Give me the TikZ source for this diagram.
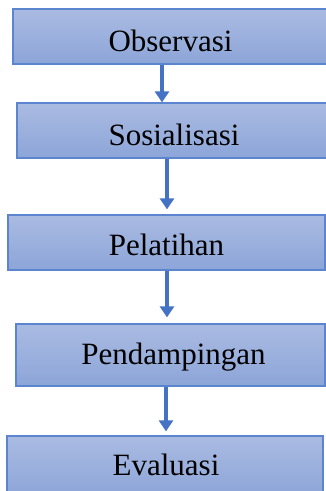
\documentclass[tikz,border=0pt]{standalone}
\usepackage{fontspec}
\setmainfont{Liberation Serif}
\usetikzlibrary{arrows.meta}
\definecolor{boxtop}{HTML}{AABBE2}
\definecolor{boxbot}{HTML}{8CA5D8}
\definecolor{boxline}{HTML}{5B86CF}
\definecolor{arrowc}{HTML}{4472C4}
\begin{document}
\begin{tikzpicture}[x=1pt,y=-1pt,
  stepbox/.style={rectangle, draw=boxline, line width=1.3pt, top color=boxtop, bottom color=boxbot, inner sep=0pt},
  steptext/.style={anchor=base, inner sep=0pt, font=\fontsize{31}{37}\selectfont, text=black},
  flowarrow/.style={draw=arrowc, line width=4pt, -{Triangle[width=14pt,length=11pt]}}]
\useasboundingbox (0,0) rectangle (326,491);
\node[stepbox, minimum width=317pt, minimum height=55pt] (b1) at (171.5,36.5) {};
\node[stepbox, minimum width=313pt, minimum height=55pt] (b2) at (173.5,130.5) {};
\node[stepbox, minimum width=317pt, minimum height=55pt] (b3) at (166.5,242.5) {};
\node[stepbox, minimum width=309pt, minimum height=62pt] (b4) at (170.5,355) {};
\node[stepbox, minimum width=316pt, minimum height=61pt] (b5) at (165,466.5) {};
\node[steptext] (t1) at (170.5,51.5) {Observasi};
\node[steptext] (t2) at (174,145) {Sosialisasi};
\node[steptext] (t3) at (166.5,255) {Pelatihan};
\node[steptext] (t4) at (173.5,364) {Pendampingan};
\node[steptext] (t5) at (166,475) {Evaluasi};
\coordinate (c1) at (162,0);
\coordinate (c2) at (167,0);
\coordinate (c3) at (167,0);
\coordinate (c4) at (166,0);
\draw[flowarrow] (b1.south -| c1) -- (b2.north -| c1);
\draw[flowarrow, shorten >=5pt] (b2.south -| c2) -- (b3.north -| c2);
\draw[flowarrow, shorten >=6pt] (b3.south -| c3) -- (b4.north -| c3);
\draw[flowarrow, shorten >=4pt] (b4.south -| c4) -- (b5.north -| c4);
\end{tikzpicture}
\end{document}
